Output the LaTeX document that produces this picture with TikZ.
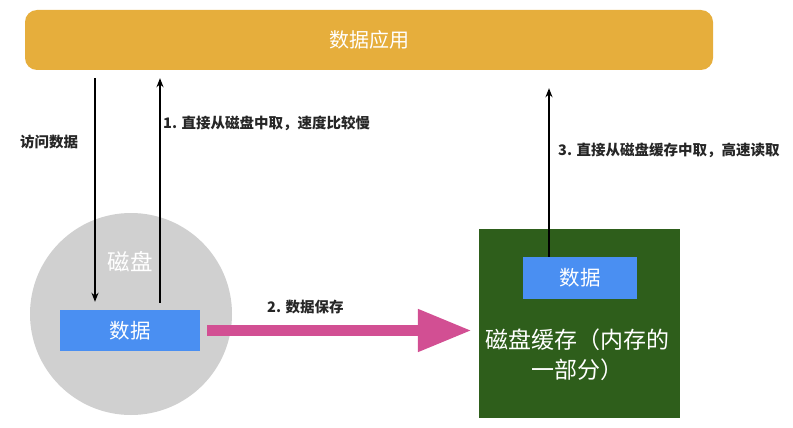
\documentclass[tikz,border=0pt]{standalone}
\usepackage{fontspec}
\setmainfont{Noto Sans CJK SC}
\usetikzlibrary{positioning, arrows.meta}

\definecolor{appyellow}{HTML}{E6AE3C}
\definecolor{diskgray}{HTML}{D0D0D0}
\definecolor{datablue}{HTML}{4A8FF2}
\definecolor{cachegreen}{HTML}{2E5E1B}
\definecolor{savepink}{HTML}{D24F93}

\tikzset{
    databox/.style={fill=datablue, text=white, font=\fontsize{20.5}{24}\selectfont,
        minimum width=140pt, minimum height=41pt, inner sep=0pt},
    steplabel/.style={anchor=west, inner sep=0pt, text=black!85,
        font=\fontsize{14.5}{17}\selectfont\bfseries},
    fetch/.style={line width=1.5pt, -{Stealth[length=9pt, width=7pt]}}
}

\begin{document}
\begin{tikzpicture}[x=1pt, y=-1pt]
    \useasboundingbox (0,0) rectangle (793,428);

    % application bar
    \node[
        fill=appyellow,
        rounded corners=12pt,
        minimum width=688pt,
        minimum height=60pt,
        text=white,
        font=\fontsize{20}{24}\selectfont
    ] (app) at (369,40) {数据应用};

    % disk
    \node[circle, fill=diskgray, minimum size=202pt] (disk) at (131,314) {};
    \node[text=white, font=\fontsize{22.5}{26}\selectfont] (disklabel) at (130,262) {磁盘};
    \node[databox] (diskdata) at (130,330.5) {数据};

    % disk cache
    \node[fill=cachegreen, minimum width=201pt, minimum height=189pt] (cache) at (579.5,323.5) {};
    \node[databox, minimum width=114pt, minimum height=42pt] (cachedata) at (580,278) {数据};
    \node[
        text=white,
        align=center,
        inner sep=0pt,
        font=\fontsize{23}{30}\selectfont
    ] (cachelabel) at (577,355) {磁盘缓存（内存的\\一部分）};

    % arrows
    \draw[fetch, shorten <=8pt, shorten >=8pt] (app.south -| 95,0) -- (diskdata.north -| 95,0);
    \draw[fetch, shorten <=7pt, shorten >=8pt] (diskdata.north -| 160,0) -- (app.south -| 160,0);
    \draw[fetch, shorten >=18pt] (cachedata.north -| 549,0) -- (app.south -| 549,0);
    \draw[
        savepink,
        line width=11pt,
        -{Triangle[length=54pt, width=40pt]},
        shorten <=7pt,
        shorten >=7pt
    ] (diskdata.east) -- (diskdata.east -| cache.west);

    % labels
    \node[steplabel] (accesslabel) at (20,142) {访问数据};
    \node[steplabel] (slowlabel) at (163,123) {1. 直接从磁盘中取，速度比较慢};
    \node[steplabel] (savelabel) at (267,307) {2. 数据保存};
    \node[steplabel] (fastlabel) at (558,150) {3. 直接从磁盘缓存中取，高速读取};
\end{tikzpicture}
\end{document}
